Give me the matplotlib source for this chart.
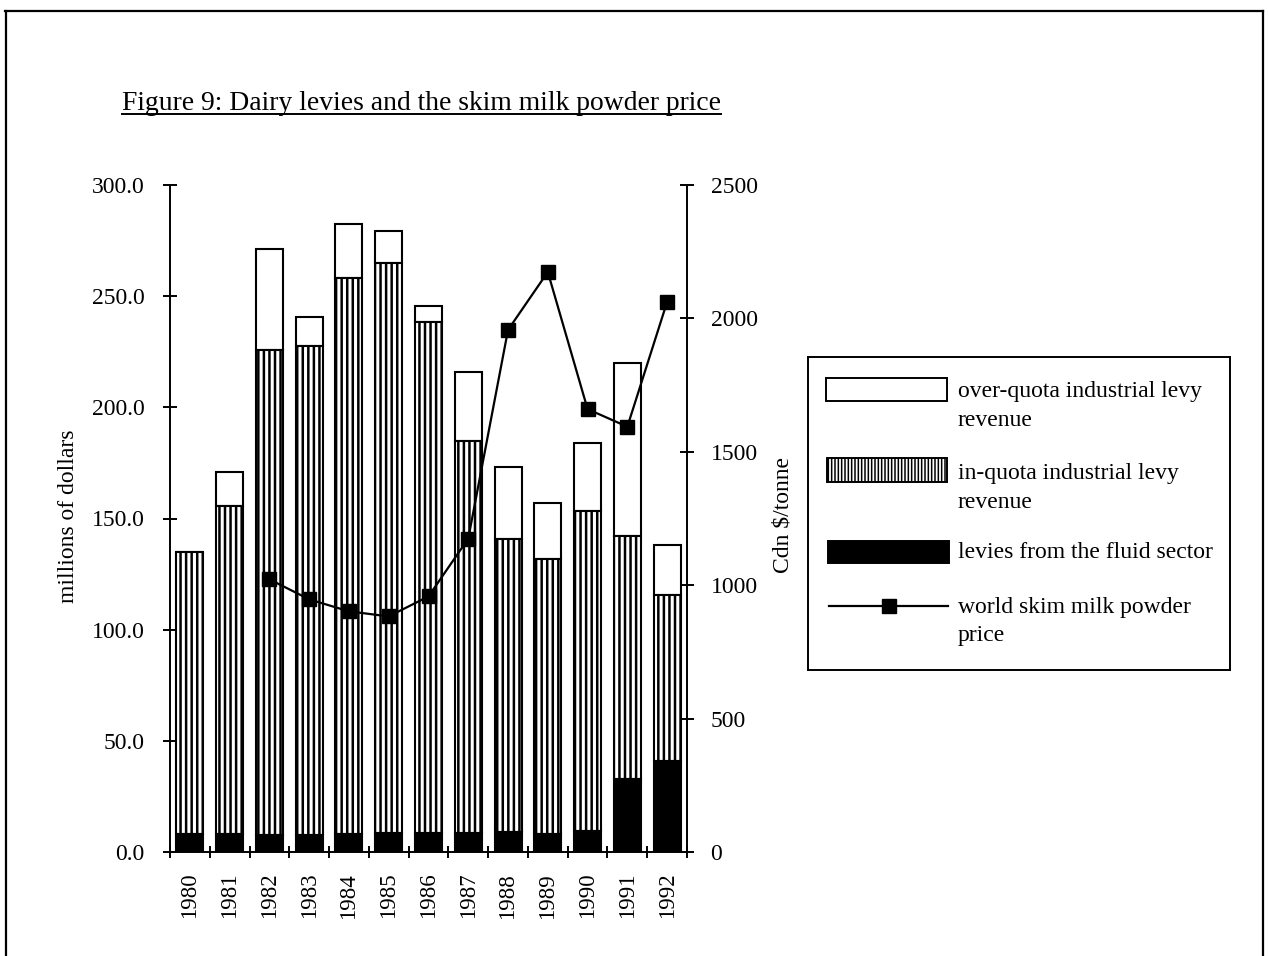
import matplotlib
matplotlib.use("Agg")
import matplotlib.pyplot as plt
from matplotlib.lines import Line2D
from matplotlib.patches import Rectangle
import numpy as np

plt.rcParams["font.family"] = ["Liberation Serif", "DejaVu Serif"]
plt.rcParams["hatch.linewidth"] = 1.8
plt.rcParams["hatch.color"] = "black"

YEARS = ["1980", "1981", "1982", "1983", "1984", "1985", "1986",
         "1987", "1988", "1989", "1990", "1991", "1992"]

# millions of dollars, stacked from the bottom
FLUID_LEVY = [8, 8, 7.5, 7.5, 8, 8.5, 8.5, 8.5, 9, 8, 9.5, 33, 41]
IN_QUOTA_TOP = [135, 155.5, 226, 227.5, 258, 265, 238.5, 185, 141, 132, 153.5, 142, 115.5]
OVER_QUOTA_TOP = [135, 171, 271, 240.5, 282.5, 279.5, 245.5, 216, 173, 157, 184, 220, 138]

# Cdn $/tonne, no price series before 1982
SMP_YEARS = ["1982", "1983", "1984", "1985", "1986", "1987",
             "1988", "1989", "1990", "1991", "1992"]
SMP_PRICE = [1022, 947, 902, 883, 958, 1175, 1957, 2174, 1660, 1594, 2062]

FS = 17
W, H = 1269, 956

fig = plt.figure(figsize=(W / 100, H / 100), dpi=100)
ax = fig.add_axes([170 / W, 1 - 852 / H, (687 - 170) / W, (852 - 185) / H])
ax2 = ax.twinx()

x = np.arange(len(YEARS))
fluid = np.array(FLUID_LEVY)
inq = np.array(IN_QUOTA_TOP)
overq = np.array(OVER_QUOTA_TOP)
bw = 0.68
ew = 1.5

ax.bar(x, overq - inq, bw, bottom=inq, color="white", edgecolor="black", linewidth=ew)
ax.bar(x, inq - fluid, bw, bottom=fluid, color="white", edgecolor="black",
       linewidth=ew, hatch="|||")
ax.bar(x, fluid, bw, color="black", edgecolor="black", linewidth=ew)

px = [YEARS.index(y) for y in SMP_YEARS]
ax2.plot(px, SMP_PRICE, color="black", linewidth=1.6, marker="s",
         markersize=9.5, markerfacecolor="black", markeredgecolor="black")

ax.set_xlim(-0.5, len(YEARS) - 0.5)
ax.set_ylim(0, 300)
ax2.set_ylim(0, 2500)

ax.set_yticks(np.arange(0, 301, 50))
ax.set_yticklabels([f"{v:.1f}" for v in np.arange(0, 301, 50)])
ax2.set_yticks(np.arange(0, 2501, 500))

ax.set_xticks(np.arange(-0.5, len(YEARS)), labels=[])
ax.set_xticks(x, labels=YEARS, minor=True, rotation=90)

ax.tick_params(axis="y", direction="inout", length=10, width=1.4, pad=13.5,
               labelsize=FS)
ax2.tick_params(axis="y", direction="inout", length=10, width=1.4, pad=12,
                labelsize=FS)
ax.tick_params(axis="x", which="major", direction="inout", length=8, width=1.4)
ax.tick_params(axis="x", which="minor", length=0, pad=15, labelsize=16.5)

for a in (ax, ax2):
    a.spines["top"].set_visible(False)
    for s in a.spines.values():
        s.set_linewidth(1.4)
ax.spines["right"].set_visible(False)
ax2.spines["left"].set_visible(False)
ax2.spines["bottom"].set_visible(False)

fig.text(68 / W, 1 - 516 / H, "millions of dollars", rotation=90,
         ha="center", va="center", fontsize=FS)
fig.text(783 / W, 1 - 515 / H, "Cdn $/tonne", rotation=90,
         ha="center", va="center", fontsize=FS)

# title with underline
title = fig.text(122 / W, 1 - 110 / H,
                 "Figure 9: Dairy levies and the skim milk powder price",
                 ha="left", va="baseline", fontsize=19.9)
fig.canvas.draw()
bb = title.get_window_extent()
uy = bb.y0 + 2
fig.add_artist(Line2D([bb.x0 / W, bb.x1 / W], [uy / H, uy / H],
                      transform=fig.transFigure, color="black", linewidth=1.4))

# legend panel, laid out in pixel units of the box
lx0, ly0, lx1, ly1 = 808, 357, 1230, 670
lax = fig.add_axes([lx0 / W, 1 - ly1 / H, (lx1 - lx0) / W, (ly1 - ly0) / H])
lax.set_xlim(0, lx1 - lx0)
lax.set_ylim(ly1 - ly0, 0)
lax.set_xticks([])
lax.set_yticks([])
for s in lax.spines.values():
    s.set_linewidth(1.4)

# finer stripes in the legend key
plt.rcParams["hatch.linewidth"] = 1.1

lax.add_patch(Rectangle((18, 21), 121, 23, facecolor="white", edgecolor="black",
                        linewidth=1.4))
lax.add_patch(Rectangle((19, 101), 120, 24, facecolor="white", edgecolor="black",
                        linewidth=1.4, hatch="|||||"))
lax.add_patch(Rectangle((20, 184), 121, 22, facecolor="black", edgecolor="black",
                        linewidth=1.4))
lax.plot([21, 140], [249, 249], color="black", linewidth=1.6)
lax.plot([81], [249], marker="s", markersize=9.5, color="black")

legend_lines = [
    ("over-quota industrial levy", 35), ("revenue", 63),
    ("in-quota industrial levy", 116), ("revenue", 145),
    ("levies from the fluid sector", 196),
    ("world skim milk powder", 250), ("price", 278),
]
for txt, yy in legend_lines:
    lax.text(150, yy, txt, ha="left", va="center", fontsize=FS)

# page frame
frame = dict(transform=fig.transFigure, color="black", linewidth=1.6)
fig.add_artist(Line2D([5 / W, 1263 / W], [1 - 11 / H, 1 - 11 / H], **frame))
fig.add_artist(Line2D([6 / W, 6 / W], [0, 1 - 11 / H], **frame))
fig.add_artist(Line2D([1263 / W, 1263 / W], [0, 1 - 11 / H], **frame))

fig.savefig("out.png", dpi=100, facecolor="white")
